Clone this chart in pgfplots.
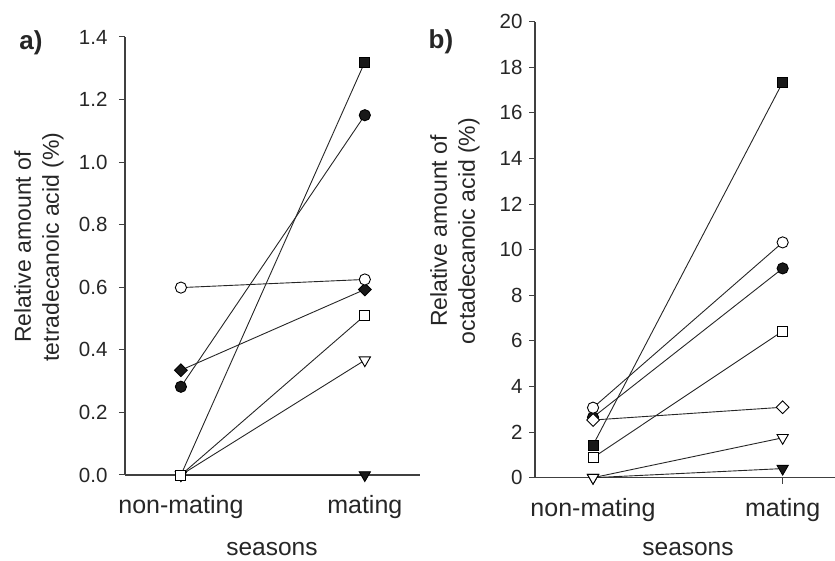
\documentclass[border=0pt]{standalone}
\usepackage{fontspec}
\setmainfont{Liberation Sans}
\usepackage{pgfplots}
\pgfplotsset{compat=1.18}

\pgfplotsset{
  panel/.style={
    scale only axis,
    axis x line*=bottom,
    axis y line*=left,
    axis line style={draw=black!75, line width=1.3pt, -},
    tick style={black!75, line width=1pt},
    tick align=outside,
    major tick length=6pt,
    xtick={0,1},
    xticklabels={non-mating,mating},
    xticklabel style={font=\fontsize{25}{29}\selectfont, text=black!85, yshift=-11pt},
    yticklabel style={font=\fontsize{20.5}{24}\selectfont, text=black!85},
    /pgf/number format/assume math mode=true,
    clip=false,
    ymin=0,
  },
  ser/.style={black!85, line width=0.9pt},
  fc/.style={ser, mark=*, mark size=5.6pt, mark options={draw=black, fill=black!90}},
  oc/.style={ser, mark=*, mark size=5.6pt, mark options={draw=black, fill=white}},
  fs/.style={ser, mark=square*, mark size=5pt, mark options={draw=black, fill=black!90}},
  os/.style={ser, mark=square*, mark size=5pt, mark options={draw=black, fill=white}},
  fd/.style={ser, mark=square*, mark size=4.5pt, mark options={rotate=45, draw=black, fill=black!90}},
  od/.style={ser, mark=square*, mark size=4.5pt, mark options={rotate=45, draw=black, fill=white}},
  ft/.style={ser, mark=triangle*, mark size=6.5pt, mark options={rotate=180, draw=black, fill=black!90}},
  ot/.style={ser, mark=triangle*, mark size=6.5pt, mark options={rotate=180, draw=black, fill=white}},
}

\begin{document}
\begin{tikzpicture}[x=1pt,y=1pt]
\useasboundingbox (0,0) rectangle (835,561);

% panel a: tetradecanoic acid
\begin{axis}[panel,
  at={(125pt,86pt)}, anchor=south west,
  width=295pt, height=438pt,
  xmin=-0.304, xmax=1.30,
  ymax=1.4, ytick={0,0.2,...,1.4},
  yticklabel style={xshift=-8pt, /pgf/number format/.cd, fixed, fixed zerofill, precision=1},
]
\addplot[ft] coordinates {(0,0) (1,0)};
\addplot[ot] coordinates {(0,0) (1,0.367)};
\addplot[fs] coordinates {(0,0) (1,1.32)};
\addplot[fc] coordinates {(0,0.282) (1,1.15)};
\addplot[fd] coordinates {(0,0.335) (1,0.593)};
\addplot[oc] coordinates {(0,0.599) (1,0.625)};
\addplot[os] coordinates {(0,0) (1,0.51)};
\end{axis}

% panel b: octadecanoic acid
\begin{axis}[panel,
  at={(535pt,83.3pt)}, anchor=south west,
  width=300pt, height=456pt,
  xmin=-0.306, xmax=1.276,
  ymax=20, ytick={0,2,...,20},
  yticklabel style={xshift=-3pt},
]
\addplot[ft] coordinates {(0,0) (1,0.40)};
\addplot[ot] coordinates {(0,0) (1,1.75)};
\addplot[os] coordinates {(0,0.88) (1,6.43)};
\addplot[fs] coordinates {(0,1.43) (1,17.34)};
\addplot[fc] coordinates {(0,2.65) (1,9.18)};
\addplot[od] coordinates {(0,2.53) (1,3.09)};
\addplot[oc] coordinates {(0,3.07) (1,10.32)};
\end{axis}

\node[font=\fontsize{26}{30}\selectfont\bfseries, text=black!85] at (31,518) {a)};
\node[font=\fontsize{26}{30}\selectfont\bfseries, text=black!85] at (441,519) {b)};
\node[rotate=90, align=center, font=\fontsize{23}{28}\selectfont, text=black!85] at (39,314)
  {Relative amount of\\tetradecanoic acid (\%)};
\node[rotate=90, align=center, font=\fontsize{23}{28}\selectfont, text=black!85] at (455,330)
  {Relative amount of\\octadecanoic acid (\%)};
\node[anchor=base, font=\fontsize{24.5}{28}\selectfont, text=black!85] at (272,5) {seasons};
\node[anchor=base, font=\fontsize{24.5}{28}\selectfont, text=black!85] at (688,5) {seasons};
\end{tikzpicture}
\end{document}
